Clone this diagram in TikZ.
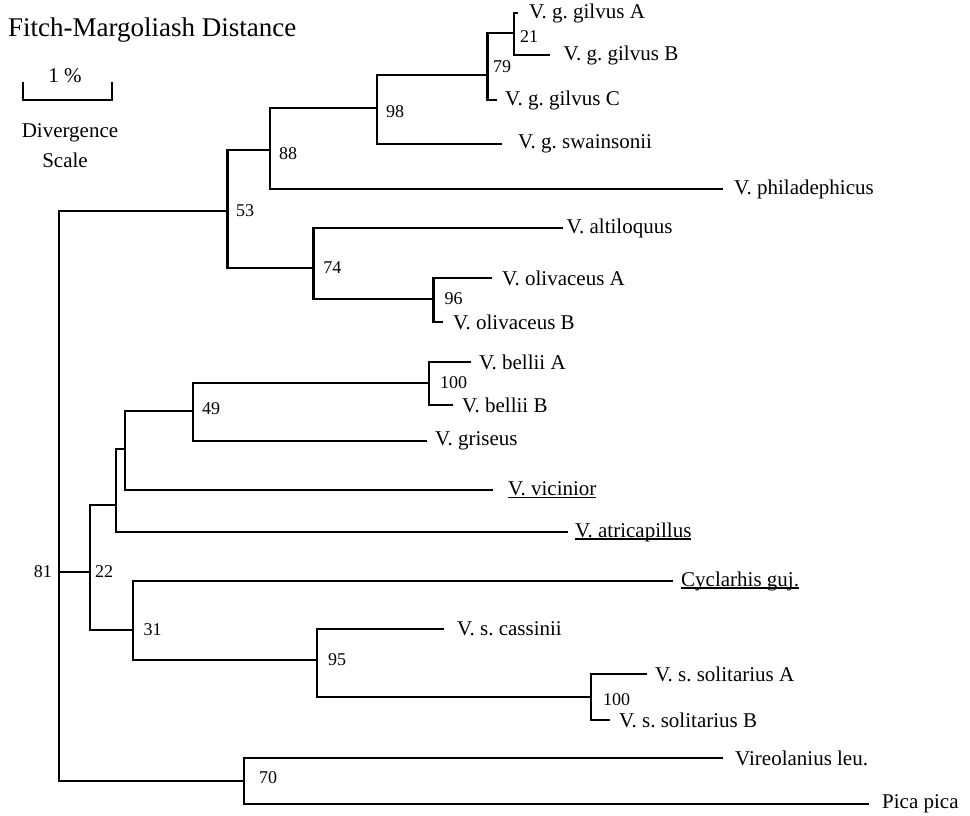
\documentclass[tikz,border=0pt]{standalone}
\usepackage{fontspec}
\setmainfont{Liberation Serif}
\usetikzlibrary{positioning}
\frenchspacing
\newcommand{\ulname}[1]{\setbox0\hbox{#1}\rlap{\rule[-2.5pt]{\wd0}{1.2pt}}\box0}

\begin{document}
\begin{tikzpicture}[
    x=1pt, y=-1pt,
    branch/.style={line width=2.8pt},
    leaf/.style={inner sep=0pt, font=\fontsize{21}{24}\selectfont},
    supp/.style={inner sep=0pt, font=\fontsize{18}{20}\selectfont},
    caption/.style={inner sep=0pt, anchor=base, font=\fontsize{21}{24}\selectfont},
  ]
  \useasboundingbox (0,0) rectangle (970,816);
  \node[inner sep=0pt, anchor=base west, font=\fontsize{27}{30}\selectfont] (title) at (8,37) {Fitch-Margoliash Distance};
  % divergence scale
  \coordinate (sbl) at (23,82);
  \coordinate (sbr) at (112,82);
  \draw[branch] (sbl) -- ++(0,18) -| (sbr);
  \node[caption] (pct) at (65,83) {1 \%};
  \node[caption] (div) at (70,137) {Divergence};
  \node[caption] (scl) at (65,167) {Scale};
  % internal nodes
  \coordinate (root) at (59,572);
  \coordinate (n53) at (227.5,211);
  \coordinate (n88) at (270,150);
  \coordinate (n98) at (377,108);
  \coordinate (n79) at (487.5,75);
  \coordinate (n21) at (514,33);
  \coordinate (n74) at (313.6,268);
  \coordinate (n96) at (433.5,299);
  \coordinate (n22) at (90,572);
  \coordinate (natr) at (116,505);
  \coordinate (nvic) at (125,449);
  \coordinate (n49) at (193,411);
  \coordinate (nbel) at (429,383);
  \coordinate (n31) at (133,630);
  \coordinate (n95) at (317,660);
  \coordinate (nsol) at (591,697);
  \coordinate (n70) at (244,781);
  % branch tips
  \coordinate (gA) at (518,13);
  \coordinate (gB) at (550,55);
  \coordinate (gC) at (497,100);
  \coordinate (swa) at (502,144);
  \coordinate (phi) at (723,189);
  \coordinate (alt) at (563,228);
  \coordinate (oA) at (492,278);
  \coordinate (oB) at (443,322);
  \coordinate (bA) at (471,362);
  \coordinate (bB) at (453,405);
  \coordinate (gri) at (427,441);
  \coordinate (vic) at (493,490);
  \coordinate (atr) at (568,532);
  \coordinate (cyc) at (673,581);
  \coordinate (cas) at (444,629);
  \coordinate (sA) at (647,674);
  \coordinate (sB) at (609.5,720);
  \coordinate (vir) at (723,758);
  \coordinate (pic) at (869,804);
  % taxa
  \node[leaf, right=11pt of gA] (tgA) {V. g. gilvus A};
  \node[leaf, right=13.5pt of gB] (tgB) {V. g. gilvus B};
  \node[leaf, right=8pt of gC] (tgC) {V. g. gilvus C};
  \node[leaf, right=16pt of swa] (tswa) {V. g. swainsonii};
  \node[leaf, right=11pt of phi] (tphi) {V. philadephicus};
  \node[leaf, right=3.5pt of alt] (talt) {V. altiloquus};
  \node[leaf, right=10pt of oA] (toA) {V. olivaceus A};
  \node[leaf, right=10pt of oB] (toB) {V. olivaceus B};
  \node[leaf, right=8pt of bA] (tbA) {V. bellii A};
  \node[leaf, right=9pt of bB] (tbB) {V. bellii B};
  \node[leaf, right=8pt of gri] (tgri) {V. griseus};
  \node[leaf, right=15pt of vic] (tvic) {\ulname{V. vicinior}};
  \node[leaf, right=7pt of atr] (tatr) {\ulname{V. atricapillus}};
  \node[leaf, right=8pt of cyc] (tcyc) {\ulname{Cyclarhis guj.}};
  \node[leaf, right=13pt of cas] (tcas) {V. s. cassinii};
  \node[leaf, right=8pt of sA] (tsA) {V. s. solitarius A};
  \node[leaf, right=9.5pt of sB] (tsB) {V. s. solitarius B};
  \node[leaf, right=12pt of vir] (tvir) {Vireolanius leu.};
  \node[leaf, right=13pt of pic] (tpic) {Pica pica};
  % branches
  \draw[branch] (root) |- (n53);
  \draw[branch] (root) |- (n22);
  \draw[branch] (root) |- (n70);
  \draw[branch] (n53) |- (n88);
  \draw[branch] (n53) |- (n74);
  \draw[branch] (n88) |- (n98);
  \draw[branch] (n88) |- (phi);
  \draw[branch] (n98) |- (n79);
  \draw[branch] (n98) |- (swa);
  \draw[branch] (n79) |- (n21);
  \draw[branch] (n79) |- (gC);
  \draw[branch] (n21) |- (gA);
  \draw[branch] (n21) |- (gB);
  \draw[branch] (n74) |- (alt);
  \draw[branch] (n74) |- (n96);
  \draw[branch] (n96) |- (oA);
  \draw[branch] (n96) |- (oB);
  \draw[branch] (n22) |- (natr);
  \draw[branch] (n22) |- (n31);
  \draw[branch] (natr) |- (nvic);
  \draw[branch] (natr) |- (atr);
  \draw[branch] (nvic) |- (n49);
  \draw[branch] (nvic) |- (vic);
  \draw[branch] (n49) |- (nbel);
  \draw[branch] (n49) |- (gri);
  \draw[branch] (nbel) |- (bA);
  \draw[branch] (nbel) |- (bB);
  \draw[branch] (n31) |- (cyc);
  \draw[branch] (n31) |- (n95);
  \draw[branch] (n95) |- (cas);
  \draw[branch] (n95) |- (nsol);
  \draw[branch] (nsol) |- (sA);
  \draw[branch] (nsol) |- (sB);
  \draw[branch] (n70) |- (vir);
  \draw[branch] (n70) |- (pic);
  % support values
  \node[supp, left=7pt of root] (s81) {81};
  \node[supp, right=8.5pt of n53] (s53) {53};
  \node[supp, right=9pt of n88, yshift=-4pt] (s88) {88};
  \node[supp, right=9pt of n98, yshift=-4pt] (s98) {98};
  \node[supp, right=5.5pt of n79, yshift=8pt] (s79) {79};
  \node[supp, right=6pt of n21, yshift=-4pt] (s21) {21};
  \node[supp, right=9.5pt of n74] (s74) {74};
  \node[supp, right=11pt of n96] (s96) {96};
  \node[supp, right=5pt of n22] (s22) {22};
  \node[supp, right=9pt of n49, yshift=2pt] (s49) {49};
  \node[supp, right=11pt of nbel] (sbel) {100};
  \node[supp, right=10.5pt of n31] (s31) {31};
  \node[supp, right=11pt of n95] (s95) {95};
  \node[supp, right=12pt of nsol, yshift=-3pt] (ssol) {100};
  \node[supp, right=15pt of n70, yshift=3pt] (s70) {70};
\end{tikzpicture}
\end{document}
